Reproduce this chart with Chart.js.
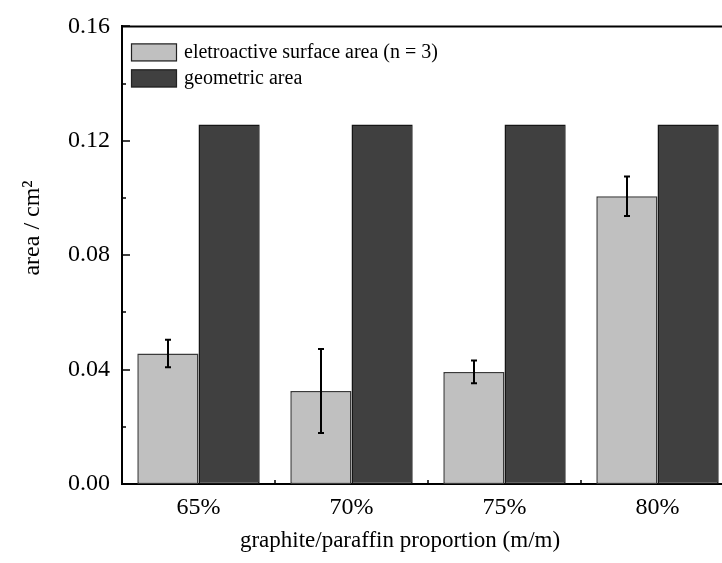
<!DOCTYPE html>
<html>
<head>
<meta charset="utf-8">
<script src="https://cdn.jsdelivr.net/npm/chart.js@4.4.1/dist/chart.umd.min.js"></script>
<style>
  html, body { margin: 0; padding: 0; background: #fff; overflow: hidden; width: 722px; height: 563px; }
  #wrap { position: absolute; left: 0; top: 0; width: 740px; height: 563px; }
</style>
</head>
<body>
<div id="wrap"><canvas id="c" width="740" height="563"></canvas></div>
<script>
// ---- data ----
const categories = ['65%', '70%', '75%', '80%'];
const seriesNames = ['eletroactive surface area (n = 3)', 'geometric area'];
const electroArea = [0.0456, 0.0325, 0.0392, 0.1006];
const electroErr = [0.0048, 0.0147, 0.0040, 0.0069];
const geometricArea = [0.1257, 0.1257, 0.1257, 0.1257];
const yTicks = [0.00, 0.04, 0.08, 0.12, 0.16];
const yMinorTicks = [0.02, 0.06, 0.10, 0.14];
const xTitle = 'graphite/paraffin proportion (m/m)';
const yTitle = 'area / cm\u00B2';

const FONT = '"Liberation Serif", "Times New Roman", serif';

const extrasPlugin = {
  id: 'extras',
  afterDatasetsDraw(chart) {
    const ctx = chart.ctx;
    const ys = chart.scales.y;
    ctx.save();
    const meta = chart.getDatasetMeta(0);
    ctx.strokeStyle = '#000';
    ctx.lineWidth = 2;
    meta.data.forEach((bar, i) => {
      const v = electroArea[i], e = electroErr[i];
      const x = Math.round(bar.x);
      const yt = ys.getPixelForValue(v + e), yb = ys.getPixelForValue(v - e);
      ctx.beginPath();
      ctx.moveTo(x, yt); ctx.lineTo(x, yb);
      ctx.moveTo(x - 3, yt); ctx.lineTo(x + 3, yt);
      ctx.moveTo(x - 3, yb); ctx.lineTo(x + 3, yb);
      ctx.stroke();
    });
    ctx.restore();
  },
  afterDraw(chart) {
    const ctx = chart.ctx;
    const ca = chart.chartArea;
    const ys = chart.scales.y;
    ctx.save();
    ctx.strokeStyle = '#000';
    ctx.lineWidth = 2;
    // top frame
    ctx.beginPath();
    ctx.moveTo(ca.left - 1, ca.top); ctx.lineTo(ca.right, ca.top);
    ctx.stroke();
    // y ticks inward
    ctx.lineWidth = 1.5;
    ctx.beginPath();
    yTicks.forEach(v => { const y = Math.round(ys.getPixelForValue(v)); ctx.moveTo(ca.left, y); ctx.lineTo(ca.left + 8, y); });
    yMinorTicks.forEach(v => { const y = Math.round(ys.getPixelForValue(v)); ctx.moveTo(ca.left, y); ctx.lineTo(ca.left + 4, y); });
    ctx.stroke();
    // x boundary ticks inward
    const w = (ca.right - ca.left) / categories.length;
    ctx.beginPath();
    for (let k = 1; k < categories.length; k++) {
      const x = Math.round(ca.left + k * w);
      ctx.moveTo(x, ca.bottom); ctx.lineTo(x, ca.bottom - 4);
    }
    ctx.stroke();
    // legend
    ctx.font = '20px ' + FONT;
    ctx.textBaseline = 'middle';
    ctx.textAlign = 'left';
    chart.data.datasets.forEach((ds, i) => {
      const bx = ca.left + 9, by = ca.top + 17 + i * 26;
      ctx.fillStyle = ds.backgroundColor;
      ctx.fillRect(bx, by, 46, 18);
      ctx.lineWidth = 1.2;
      ctx.strokeStyle = '#222';
      ctx.strokeRect(bx + 0.5, by + 0.5, 45, 17);
      ctx.fillStyle = '#000';
      ctx.fillText(ds.label, bx + 53, by + 9);
    });
    // axis titles
    ctx.fillStyle = '#000';
    ctx.font = '23px ' + FONT;
    ctx.textAlign = 'center';
    ctx.textBaseline = 'alphabetic';
    ctx.fillText(xTitle, 400, 547);
    ctx.font = '24px ' + FONT;
    ctx.translate(39, 228);
    ctx.rotate(-Math.PI / 2);
    ctx.fillText(yTitle, 0, 0);
    ctx.restore();
  }
};

new Chart(document.getElementById('c'), {
  type: 'bar',
  data: {
    labels: categories,
    datasets: [
      { label: seriesNames[0], data: electroArea, backgroundColor: '#c0c0c0', borderColor: '#3a3a3a', borderWidth: 1.5, borderSkipped: false, categoryPercentage: 0.8, barPercentage: 1.0 },
      { label: seriesNames[1], data: geometricArea, backgroundColor: '#404040', borderColor: '#151515', borderWidth: 1.5, borderSkipped: false, categoryPercentage: 0.8, barPercentage: 1.0 }
    ]
  },
  options: {
    responsive: false,
    animation: false,
    devicePixelRatio: 1,
    layout: { padding: { left: 0, right: 6, top: 26, bottom: 0 } },
    plugins: { legend: { display: false }, tooltip: { enabled: false } },
    scales: {
      x: {
        grid: { display: false, drawTicks: false },
        border: { display: true, color: '#000', width: 2 },
        ticks: { color: '#000', font: { family: FONT, size: 24 }, padding: 9, maxRotation: 0 },
        afterFit(scale) { scale.height = 79; }
      },
      y: {
        min: 0, max: 0.16,
        grid: { display: false, drawTicks: false },
        border: { display: true, color: '#000', width: 2 },
        afterBuildTicks(scale) { scale.ticks = yTicks.map(v => ({ value: v })); },
        ticks: { color: '#000', font: { family: FONT, size: 24 }, padding: 12, callback: v => Number(v).toFixed(2) },
        afterFit(scale) { scale.width = 122; }
      }
    }
  },
  plugins: [extrasPlugin]
});
</script>
</body>
</html>
